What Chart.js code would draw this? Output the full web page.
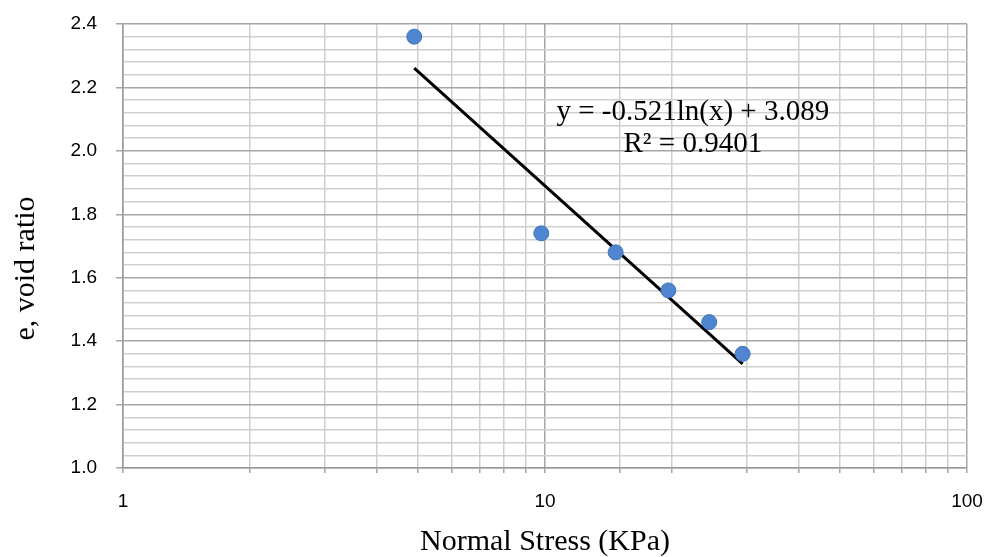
<!DOCTYPE html>
<html>
<head>
<meta charset="utf-8">
<script src="https://cdn.jsdelivr.net/npm/chart.js@4/dist/chart.umd.min.js"></script>
<style>
  html, body { margin: 0; padding: 0; background: #fff; }
  #wrap { width: 988px; height: 557px; }
</style>
</head>
<body>
<div id="wrap"><canvas id="grafico" width="988" height="557"></canvas></div>
<script>
// dados
var tensoes = [4.9, 9.8, 14.7, 19.6, 24.5, 29.4];
var indicesVazios = [2.36, 1.74, 1.68, 1.56, 1.46, 1.36];
var tendenciaX = [4.9, 29.4];
var tendenciaY = [2.261, 1.328];
var rotulosX = [1, 10, 100];
var equacao = 'y = -0.521ln(x) + 3.089';
var rSquared = 'R\u00b2 = 0.9401';

var pontos = tensoes.map(function(x, i){ return { x: x, y: indicesVazios[i] }; });
var linha = tendenciaX.map(function(x, i){ return { x: x, y: tendenciaY[i] }; });

function ehDecada(v){
	return rotulosX.indexOf(Math.round(v * 1000) / 1000) >= 0;
}
function ehMaiorY(v){
	return Math.round(v * 100) % 20 === 0;
}

var textoEquacao = {
	id: 'textoEquacao',
	afterDatasetsDraw: function(chart){
		var ctx = chart.ctx;
		var x = chart.scales.x.getPixelForValue(22.4);
		var y = chart.scales.y.getPixelForValue(2.12);
		ctx.save();
		ctx.fillStyle = '#000';
		ctx.font = '29px "Liberation Serif", "Times New Roman", serif';
		ctx.textAlign = 'center';
		ctx.textBaseline = 'middle';
		ctx.fillText(equacao, x, y);
		ctx.fillText(rSquared, x, y + 32);
		ctx.restore();
	}
};

var ctx = document.getElementById('grafico').getContext('2d');
var grafico = new Chart(ctx, {
	type: 'scatter',
	data: {
		datasets: [{
			label: 'e',
			data: pontos,
			backgroundColor: '#4f86cf',
			borderColor: '#3f73ba',
			borderWidth: 1,
			pointRadius: 7.5,
			order: 1
		}, {
			label: 'tendencia',
			type: 'line',
			data: linha,
			borderColor: '#000',
			borderWidth: 3,
			pointRadius: 0,
			fill: false,
			order: 2
		}]
	},
	options: {
		responsive: false,
		animation: false,
		layout: { padding: { top: 24, right: 21, bottom: 0, left: 0 } },
		plugins: { legend: { display: false }, tooltip: { enabled: false } },
		scales: {
			x: {
				type: 'logarithmic',
				min: 1,
				max: 100,
				afterFit: function(scale){
					scale.height = 89;
					scale.paddingLeft = 0;
					scale.paddingRight = 0;
				},
				border: { color: '#9a9a9a', width: 1.5 },
				grid: {
					color: function(c){ return ehDecada(c.tick.value) ? '#a6a6a6' : '#cfcfcf'; },
					lineWidth: 1.5,
					tickLength: 5,
					tickColor: '#a6a6a6'
				},
				ticks: {
					autoSkip: false,
					maxRotation: 0,
					color: '#000',
					padding: 17,
					font: { family: '"Liberation Sans", Arial, sans-serif', size: 19 },
					callback: function(v){ return ehDecada(v) ? String(v) : ''; }
				},
				title: {
					display: true,
					text: 'Normal Stress (KPa)',
					color: '#000',
					padding: { top: 0, bottom: 0 },
					font: { family: '"Liberation Serif", "Times New Roman", serif', size: 30, lineHeight: 1 }
				}
			},
			y: {
				min: 1.0,
				max: 2.4,
				afterFit: function(scale){
					scale.width = 123;
					scale.paddingTop = 0;
					scale.paddingBottom = 0;
				},
				border: { color: '#9a9a9a', width: 1.5 },
				grid: {
					color: function(c){ return ehMaiorY(c.tick.value) ? '#a6a6a6' : '#cfcfcf'; },
					lineWidth: 1.5,
					tickLength: 7,
					tickColor: function(c){ return ehMaiorY(c.tick.value) ? '#a6a6a6' : 'rgba(0,0,0,0)'; }
				},
				ticks: {
					stepSize: 0.04,
					autoSkip: false,
					color: '#000',
					padding: 19,
					font: { family: '"Liberation Sans", Arial, sans-serif', size: 19 },
					callback: function(v){ return ehMaiorY(v) ? v.toFixed(1) : ''; }
				},
				title: {
					display: true,
					text: 'e, void ratio\u00a0\u00a0\u00a0\u00a0\u00a0\u00a0',
					color: '#000',
					padding: { top: 11, bottom: 0 },
					font: { family: '"Liberation Serif", "Times New Roman", serif', size: 30, lineHeight: 1 }
				}
			}
		}
	},
	plugins: [textoEquacao]
});
</script>
</body>
</html>
